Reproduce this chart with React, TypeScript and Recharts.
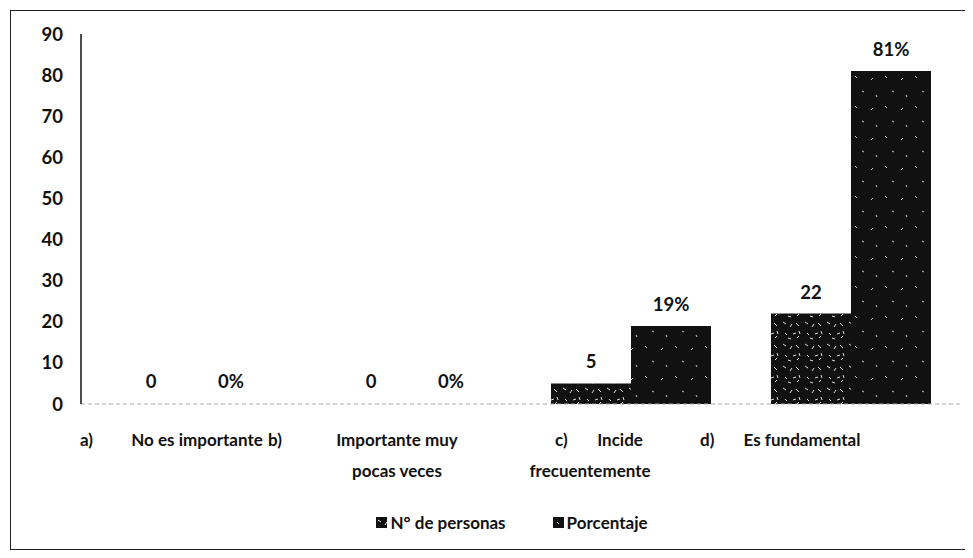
import { Bar, BarChart, LabelList, Legend, Rectangle, XAxis, YAxis } from "recharts";

const categories = ["a) No es importante", "b) Importante muy pocas veces", "c) Incide frecuentemente", "d) Es fundamental"];
const tickPrefixes = ["a)", "b)", "c)", "d)"];
const tickCaptions = [["No es importante"], ["Importante muy", "pocas veces"], ["Incide", "frecuentemente"], ["Es fundamental"]];
const personas = [0, 0, 5, 22];
const porcentaje = [0, 0, 19, 81];
const yTicks = [0, 10, 20, 30, 40, 50, 60, 70, 80, 90];

// where Excel's tabbed category text landed, relative to each tick
const TICK_LAYOUT = [
  { prefix: -111, lines: [6] },
  { prefix: -143, lines: [-14, -14] },
  { prefix: -76, lines: [-11, -41] },
  { prefix: -151, lines: [-49] },
];

const FONT = "Lato, 'Open Sans', sans-serif";
const INK = "#111";
const numberStyle = { fontFamily: FONT, fontSize: 18.5, fontWeight: 700, fill: INK };

const data = categories.map((c, i) => ({ name: c, personas: personas[i], porcentaje: porcentaje[i] }));

const CategoryTick = (props: any) => {
  const { x, y, index } = props;
  const layout = TICK_LAYOUT[index];
  return (
    <g fontFamily={FONT} fontSize={17} fontWeight={700} fill={INK}>
      <text x={x + layout.prefix} y={y} dy={34} textAnchor="start">
        {tickPrefixes[index]}
      </text>
      {tickCaptions[index].map((line, li) => (
        <text key={li} x={x + layout.lines[li]} y={y} dy={34 + li * 31} textAnchor="middle">
          {line}
        </text>
      ))}
    </g>
  );
};

// zero values keep their label but draw no bar
const HideZero = (props: any) => (props.value === 0 ? <g /> : <Rectangle {...props} />);

const Swatch = ({ id }: { id: string }) => (
  <svg width={11} height={11} style={{ marginRight: 3 }}>
    <rect width={11} height={11} fill={`url(#${id})`} />
  </svg>
);

const LegendContent = () => (
  <div
    style={{
      display: "flex",
      justifyContent: "center",
      gap: 47,
      fontFamily: FONT,
      fontSize: 17,
      fontWeight: 700,
      color: INK,
      marginLeft: 32,
    }}
  >
    <span style={{ display: "flex", alignItems: "center" }}>
      <Swatch id="patPersonas" />
      N° de personas
    </span>
    <span style={{ display: "flex", alignItems: "center" }}>
      <Swatch id="patPorcentaje" />
      Porcentaje
    </span>
  </div>
);

export default function App() {
  return (
    <div
      style={{
        width: 958,
        height: 538,
        margin: "2px 0 0 2px",
        border: "1px solid #222",
        background: "#fff",
      }}
    >
      <BarChart
        width={958}
        height={538}
        data={data}
        margin={{ top: 23, right: 8, left: 20, bottom: 44 }}
        barCategoryGap={30}
        barGap={0}
      >
        <defs>
          <pattern id="patPersonas" width={22} height={22} patternUnits="userSpaceOnUse">
            <rect width={22} height={22} fill={INK} />
            <path d="M2 3l3 2M9 8l2 -3M15 4l3 3M4 14l2 2M12 15l3 -1M18 12l1 3M7 19l3 1M16 19l2 -2" stroke="#ddd" strokeWidth={1} />
          </pattern>
          <pattern id="patPorcentaje" width={30} height={30} patternUnits="userSpaceOnUse">
            <rect width={30} height={30} fill={INK} />
            <path d="M4 5l2 2M20 9l2 -2M11 20l2 1M25 24l1 2" stroke="#ccc" strokeWidth={1} />
          </pattern>
        </defs>
        <XAxis
          dataKey="name"
          height={80}
          axisLine={{ stroke: "#aaa", strokeDasharray: "4 3" }}
          tickLine={false}
          interval={0}
          tick={<CategoryTick />}
        />
        <YAxis
          width={50}
          domain={[0, 90]}
          ticks={yTicks}
          axisLine={{ stroke: INK, strokeWidth: 1.5 }}
          tickLine={false}
          tickSize={0}
          tickMargin={18}
          tick={numberStyle}
        />
        <Legend verticalAlign="bottom" content={<LegendContent />} wrapperStyle={{ top: 501 }} />
        <Bar
          dataKey="personas"
          name="N° de personas"
          fill="url(#patPersonas)"
          minPointSize={1}
          shape={<HideZero />}
          isAnimationActive={false}
        >
          <LabelList dataKey="personas" position="top" offset={15} style={numberStyle} />
        </Bar>
        <Bar
          dataKey="porcentaje"
          name="Porcentaje"
          fill="url(#patPorcentaje)"
          minPointSize={1}
          shape={<HideZero />}
          isAnimationActive={false}
        >
          <LabelList
            dataKey="porcentaje"
            position="top"
            offset={15}
            formatter={(v: any) => `${v}%`}
            style={numberStyle}
          />
        </Bar>
      </BarChart>
    </div>
  );
}
